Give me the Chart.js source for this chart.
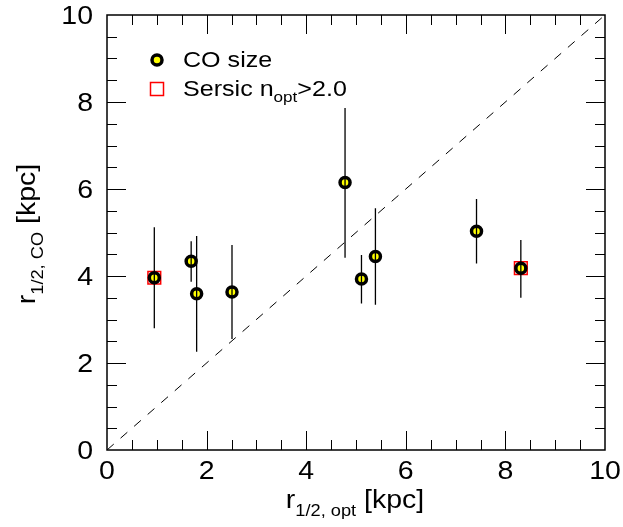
<!DOCTYPE html>
<html lang="en">
<head>
    <meta charset="UTF-8">
    <title>CO size vs optical size</title>
    <script src="https://cdn.jsdelivr.net/npm/chart.js"></script>
    <style>
        body { margin: 0; background: #fff; }
    </style>
</head>
<body>
    <canvas id="myChart" width="623" height="527"></canvas>
    <script>
        // values (kpc)
        const rOpt = [0.95, 1.69, 1.80, 2.51, 4.78, 5.11, 5.39, 7.42, 8.31];
        const rCO = [3.96, 4.34, 3.59, 3.63, 6.15, 3.93, 4.45, 5.03, 4.18];
        const rCOlo = [2.80, 3.87, 2.26, 2.55, 4.42, 3.37, 3.34, 4.29, 3.50];
        const rCOhi = [5.12, 4.80, 4.92, 4.71, 7.86, 4.48, 5.56, 5.77, 4.83];
        // galaxies with Sersic n_opt > 2.0
        const sersicHigh = [true, false, false, false, false, false, false, false, true];
        const oneToOne = [0, 10];
        const xTicks = [0, 2, 4, 6, 8, 10];
        const yTicks = [0, 2, 4, 6, 8, 10];

        const FONT = '"Liberation Sans", Arial, sans-serif';
        const SX = 1.14; // text in the picture is a bit wide

        let points = [];
        let errs = [];
        let squares = [];
        rOpt.forEach(function (x, i) {
            points.push({x: x, y: rCO[i]});
            errs.push({x: x, y: rCOlo[i]});
            errs.push({x: x, y: rCOhi[i]});
            errs.push({x: x, y: null});
            if (sersicHigh[i]) squares.push({x: x, y: rCO[i]});
        });

        // draw text stretched a little in x, returns its width
        function txt(ctx, s, x, y, size) {
            ctx.save();
            ctx.font = size + 'px ' + FONT;
            ctx.textAlign = 'left';
            ctx.textBaseline = 'alphabetic';
            ctx.translate(x, y);
            ctx.scale(SX, 1);
            ctx.fillText(s, 0, 0);
            ctx.restore();
            return textW(ctx, s, size);
        }
        function textW(ctx, s, size) {
            ctx.save();
            ctx.font = size + 'px ' + FONT;
            let w = ctx.measureText(s).width * SX;
            ctx.restore();
            return w;
        }
        // parts: [text, size, dy]
        function rich(ctx, parts, x, y, align) {
            let total = 0;
            parts.forEach(function (p) { total += textW(ctx, p[0], p[1]); });
            let cx = align === 'center' ? x - total / 2 : (align === 'right' ? x - total : x);
            parts.forEach(function (p) {
                cx += txt(ctx, p[0], cx, y + p[2], p[1]);
            });
        }
        function marker(ctx, x, y) {
            ctx.save();
            ctx.beginPath();
            ctx.arc(x, y, 5, 0, Math.PI * 2);
            ctx.fillStyle = '#ffff00';
            ctx.fill();
            ctx.lineWidth = 3.5;
            ctx.strokeStyle = '#000';
            ctx.stroke();
            ctx.restore();
        }

        const decor = {
            id: 'decor',
            afterDatasetsDraw: function (chart) {
                const ctx = chart.ctx;
                const a = chart.chartArea;
                const xs = chart.scales.x;
                const ys = chart.scales.y;
                ctx.save();
                ctx.strokeStyle = '#000';
                ctx.fillStyle = '#000';

                // inside ticks on all four sides
                ctx.lineWidth = 1;
                for (let v = 0.5; v < 10; v += 0.5) {
                    let len = (v % 2 === 0) ? 19 : 10;
                    let px = Math.round(xs.getPixelForValue(v)) + 0.5;
                    let py = Math.round(ys.getPixelForValue(v)) + 0.5;
                    ctx.beginPath();
                    ctx.moveTo(px, a.bottom); ctx.lineTo(px, a.bottom - len);
                    ctx.moveTo(px, a.top); ctx.lineTo(px, a.top + len);
                    ctx.moveTo(a.left, py); ctx.lineTo(a.left + len, py);
                    ctx.moveTo(a.right, py); ctx.lineTo(a.right - len, py);
                    ctx.stroke();
                }
                // frame
                ctx.lineWidth = 1.5;
                ctx.strokeRect(a.left, a.top, a.right - a.left, a.bottom - a.top);

                // tick labels
                xTicks.forEach(function (v) {
                    let s = String(v);
                    txt(ctx, s, xs.getPixelForValue(v) - textW(ctx, s, 25) / 2, 479, 25);
                });
                yTicks.forEach(function (v) {
                    let s = String(v);
                    txt(ctx, s, 93 - textW(ctx, s, 25), ys.getPixelForValue(v) + 9, 25);
                });

                // axis titles
                rich(ctx, [['r', 25, 0], ['1/2, opt', 16, 8], [' [kpc]', 25, 0]], 355, 508, 'center');
                ctx.save();
                ctx.translate(35, 234);
                ctx.rotate(-Math.PI / 2);
                rich(ctx, [['r', 25, 0], ['1/2, CO', 16, 8], [' [kpc]', 25, 0]], 0, 0, 'center');
                ctx.restore();

                // legend
                marker(ctx, 157, 60);
                txt(ctx, 'CO size', 183, 67, 22);
                ctx.lineWidth = 1.5;
                ctx.strokeStyle = '#ff0000';
                ctx.strokeRect(150.5, 82.5, 13, 13);
                rich(ctx, [['Sersic n', 22, 0], ['opt', 15, 6], ['>2.0', 22, 0]], 183, 96, 'left');

                ctx.restore();
            }
        };

        new Chart(document.getElementById('myChart'), {
            type: 'scatter',
            data: {
                datasets: [{
                    // error bars on top of the markers
                    type: 'line',
                    data: errs,
                    borderColor: '#000',
                    borderWidth: 1.3,
                    pointRadius: 0,
                    spanGaps: false,
                    order: 0
                }, {
                    label: 'CO size',
                    data: points,
                    pointRadius: 5,
                    borderWidth: 3.5,
                    borderColor: '#000',
                    backgroundColor: '#ffff00',
                    order: 1
                }, {
                    label: 'Sersic n_opt>2.0',
                    data: squares,
                    pointStyle: 'rect',
                    pointRadius: 9,
                    borderWidth: 1.5,
                    borderColor: '#ff0000',
                    backgroundColor: 'rgba(255,255,255,0)',
                    order: 2
                }, {
                    type: 'line',
                    data: oneToOne.map(function (v) { return {x: v, y: v}; }),
                    borderColor: '#000',
                    borderWidth: 1,
                    borderDash: [9, 9],
                    pointRadius: 0,
                    order: 3
                }]
            },
            options: {
                responsive: false,
                animation: false,
                events: [],
                layout: { padding: { top: 15, right: 18, left: 0, bottom: 0 } },
                plugins: { legend: { display: false }, tooltip: { enabled: false } },
                scales: {
                    x: {
                        type: 'linear', min: 0, max: 10,
                        ticks: { display: false },
                        grid: { display: false },
                        border: { display: false },
                        afterFit: function (s) { s.height = 77; }
                    },
                    y: {
                        type: 'linear', min: 0, max: 10,
                        ticks: { display: false },
                        grid: { display: false },
                        border: { display: false },
                        afterFit: function (s) { s.width = 107; }
                    }
                }
            },
            plugins: [decor]
        });
    </script>
</body>
</html>
